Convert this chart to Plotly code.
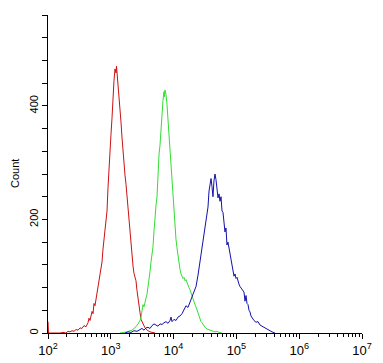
import numpy as np
import plotly.graph_objects as go

# log10 fluorescence intensity and event counts
red_log = [2.000, 2.008, 2.191, 2.239, 2.287, 2.318, 2.350, 2.382, 2.414, 2.446, 2.478, 2.510, 2.541, 2.573,
           2.605, 2.637, 2.653, 2.669, 2.685, 2.701, 2.717, 2.732, 2.748, 2.764, 2.780, 2.796, 2.812,
           2.828, 2.844, 2.860, 2.876, 2.892, 2.908, 2.924, 2.940, 2.955, 2.971, 2.987, 3.003, 3.019,
           3.035, 3.051, 3.067, 3.083, 3.091, 3.099, 3.115, 3.131, 3.147, 3.162, 3.178, 3.194, 3.210,
           3.226, 3.242, 3.258, 3.274, 3.290, 3.306, 3.322, 3.338, 3.354, 3.369, 3.385, 3.401, 3.417,
           3.433, 3.449, 3.465, 3.481, 3.497, 3.513, 3.529, 3.545, 3.561, 3.576, 3.592, 3.624, 3.656, 3.704]
red_cnt = [20, 0, 0, 1, 0, 3, 2, 4, 3, 6, 5, 9, 8, 13,
           11, 18, 26, 22, 30, 38, 34, 52, 48, 60, 72, 80, 90,
           100, 112, 125, 148, 168, 180, 198, 215, 255, 295, 325, 350, 378,
           420, 445, 465, 458, 470, 460, 440, 418, 400, 372, 345, 318, 295,
           278, 262, 240, 222, 205, 185, 168, 145, 118, 105, 98, 92, 75,
           58, 45, 36, 24, 20, 15, 12, 9, 7, 5, 4, 2, 1, 0]

green_log = [3.147, 3.210, 3.258, 3.306, 3.338, 3.369, 3.401, 3.433, 3.465, 3.481, 3.497, 3.513, 3.529,
             3.545, 3.561, 3.576, 3.592, 3.608, 3.624, 3.640, 3.656, 3.672, 3.688, 3.704, 3.720, 3.736,
             3.752, 3.768, 3.783, 3.799, 3.815, 3.831, 3.847, 3.855, 3.863, 3.879, 3.895, 3.911, 3.927,
             3.943, 3.959, 3.975, 3.990, 4.006, 4.022, 4.038, 4.054, 4.070, 4.086, 4.102, 4.118, 4.134,
             4.150, 4.166, 4.182, 4.197, 4.213, 4.229, 4.245, 4.261, 4.277, 4.293, 4.309, 4.325, 4.341,
             4.357, 4.373, 4.389, 4.404, 4.420, 4.436, 4.452, 4.468, 4.484, 4.500, 4.532, 4.564, 4.596,
             4.627, 4.659, 4.691, 4.723, 4.771]
green_cnt = [0, 1, 2, 4, 5, 8, 11, 16, 22, 28, 38, 50, 46,
             58, 62, 68, 80, 95, 108, 125, 140, 152, 180, 208, 225, 240,
             285, 315, 330, 365, 398, 410, 425, 416, 428, 420, 402, 375, 350,
             318, 298, 268, 228, 200, 182, 165, 150, 135, 122, 112, 104, 98,
             96, 98, 92, 94, 88, 84, 80, 76, 70, 66, 60, 54, 50,
             46, 40, 34, 30, 24, 20, 18, 15, 12, 10, 7, 6, 4,
             3, 2, 3, 1, 0]

blue_log = [3.226, 3.274, 3.322, 3.369, 3.417, 3.465, 3.497, 3.529, 3.561, 3.592, 3.624, 3.656, 3.688,
            3.720, 3.752, 3.783, 3.815, 3.847, 3.879, 3.911, 3.943, 3.959, 3.975, 4.006, 4.038, 4.070,
            4.102, 4.134, 4.166, 4.197, 4.229, 4.261, 4.293, 4.325, 4.357, 4.389, 4.420, 4.452, 4.484,
            4.516, 4.532, 4.548, 4.564, 4.580, 4.596, 4.611, 4.627, 4.643, 4.659, 4.675, 4.691, 4.707,
            4.723, 4.739, 4.755, 4.771, 4.787, 4.803, 4.818, 4.834, 4.850, 4.866, 4.882, 4.898, 4.914,
            4.930, 4.946, 4.962, 4.978, 4.994, 5.010, 5.025, 5.041, 5.057, 5.073, 5.089, 5.105, 5.121,
            5.137, 5.153, 5.169, 5.185, 5.201, 5.217, 5.232, 5.248, 5.280, 5.312, 5.344, 5.376, 5.408,
            5.439, 5.471, 5.503, 5.535, 5.567, 5.615]
blue_cnt = [0, 2, 1, 4, 3, 6, 8, 5, 9, 10, 8, 13, 16,
            14, 12, 16, 15, 18, 20, 17, 22, 28, 20, 24, 22, 28,
            30, 34, 40, 48, 45, 54, 62, 70, 82, 102, 125, 145, 168,
            190, 205, 222, 250, 262, 272, 258, 240, 268, 280, 270, 255, 238,
            245, 232, 240, 215, 212, 190, 178, 185, 155, 160, 150, 135, 125,
            115, 107, 100, 104, 96, 98, 90, 86, 82, 80, 78, 76, 72,
            56, 66, 52, 50, 40, 37, 30, 27, 22, 19, 20, 14, 12,
            10, 7, 6, 4, 2, 0]

x_tick_vals = [1e2, 1e3, 1e4, 1e5, 1e6, 1e7]
x_tick_text = ["10<sup>2</sup>", "10<sup>3</sup>", "10<sup>4</sup>", "10<sup>5</sup>",
               "10<sup>6</sup>", "10<sup>7</sup>"]
x_minor_vals = [m * d for d in [1e2, 1e3, 1e4, 1e5, 1e6] for m in range(2, 10)]
y_tick_vals = [0, 200, 400]
y_tick_text = ["0", "200", "400"]
y_minor_vals = list(range(0, 561, 40))

fig = go.Figure()
for lg, cnt, col in [(red_log, red_cnt, "#cc1111"),
                     (green_log, green_cnt, "#33dd33"),
                     (blue_log, blue_cnt, "#1111aa")]:
    fig.add_trace(go.Scatter(x=10 ** np.array(lg), y=cnt, mode="lines",
                             line=dict(color=col, width=1), showlegend=False,
                             hoverinfo="skip"))

font = dict(family="Liberation Sans, Arial, sans-serif", size=12, color="black")
fig.update_layout(
    width=383, height=363,
    margin=dict(l=48, r=21, t=15, b=30),
    paper_bgcolor="white", plot_bgcolor="white",
    font=font,
    xaxis=dict(type="log", range=[2, 7], tickmode="array", tickvals=x_tick_vals,
               ticktext=x_tick_text, ticks="outside", ticklen=5, tickwidth=1,
               tickcolor="black", showline=True, linecolor="black", linewidth=1,
               showgrid=False, zeroline=False, automargin=False,
               tickfont=dict(size=13),
               minor=dict(tickvals=x_minor_vals, ticks="outside", ticklen=3,
                          tickcolor="black", showgrid=False)),
    yaxis=dict(range=[0, 560], tickmode="array", tickvals=y_tick_vals, ticktext=y_tick_text,
               ticks="outside", ticklen=5, tickwidth=1, tickcolor="black",
               tickangle=-90, showline=True, linecolor="black", linewidth=1,
               showgrid=False, zeroline=False, automargin=False,
               tickfont=dict(size=11),
               minor=dict(tickvals=y_minor_vals, ticks="outside", ticklen=5,
                          tickcolor="black", showgrid=False)),
    annotations=[dict(text="Count", xref="paper", yref="paper", x=-0.105, y=0.5,
                      textangle=-90, showarrow=False, xanchor="center", yanchor="middle",
                      font=dict(size=11))],
)
fig.write_html("out.html", config={"displayModeBar": False},
               post_script="document.body.style.margin='0';document.body.style.overflow='hidden';")
